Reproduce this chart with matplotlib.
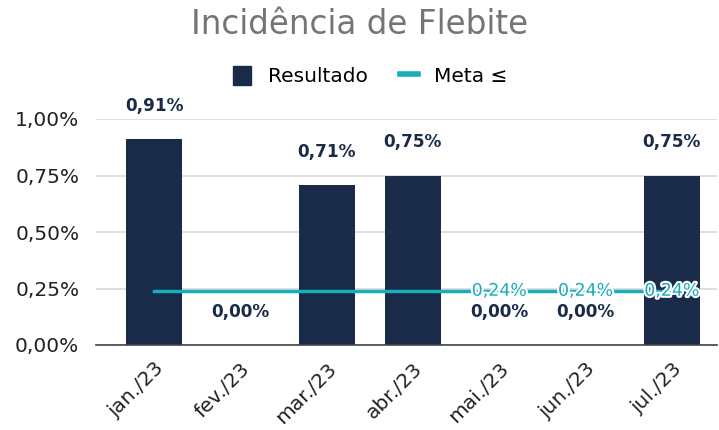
import matplotlib.pyplot as plt
import matplotlib.patheffects as pe
from matplotlib.lines import Line2D
from matplotlib.patches import Patch

meses = ["jan./23", "fev./23", "mar./23", "abr./23", "mai./23", "jun./23", "jul./23"]
resultado = [0.91, 0.00, 0.71, 0.75, 0.00, 0.00, 0.75]
meta = [0.24, 0.24, 0.24, 0.24, 0.24, 0.24, 0.24]
meta_rotulos = [False, False, False, False, True, True, True]

azul = "#1a2b4a"
teal = "#17adb9"

def pct(v):
    return f"{v:.2f}%".replace(".", ",")

fig = plt.figure(figsize=(7.19, 4.30), dpi=100)
ax = fig.add_axes([96 / 719, 1 - 345 / 430, 621 / 719, 226 / 430])

x = list(range(len(meses)))
ax.bar(x, resultado, width=0.65, color=azul, zorder=2)
ax.plot(x, meta, color=teal, linewidth=2.5, zorder=3)

for i, v in enumerate(resultado):
    ax.annotate(pct(v), (i, v), xytext=(0, 33), textcoords="offset pixels",
                ha="center", va="center", fontsize=12.2, fontweight="bold",
                color=azul, zorder=5)

for i, v in enumerate(meta):
    if meta_rotulos[i]:
        ax.annotate(pct(v), (i, v), ha="center", va="center", fontsize=12.5,
                    color=teal, zorder=6,
                    path_effects=[pe.withStroke(linewidth=3, foreground="white")])

ax.set_ylim(0, 1.0)
ax.set_xlim((96 - 154) / 86.3, (717 - 154) / 86.3)
ax.set_yticks([0, 0.25, 0.5, 0.75, 1.0])
ax.set_yticklabels([pct(t) for t in [0, 0.25, 0.5, 0.75, 1.0]], fontsize=14.5, color="#222222")
ax.set_xticks(x)
ax.set_xticklabels(meses, rotation=45, ha="right", rotation_mode="anchor",
                   fontsize=14.5, color="#222222")
ax.tick_params(axis="both", length=0)
ax.tick_params(axis="y", pad=12)
ax.tick_params(axis="x", pad=10)
ax.yaxis.grid(True, color="#d9d9d9", linewidth=1.2, zorder=0)
ax.set_axisbelow(True)
for s in ["top", "right", "left"]:
    ax.spines[s].set_visible(False)
ax.spines["bottom"].set_color("#444444")
ax.spines["bottom"].set_linewidth(1.2)

fig.text(0.5, 1 - 25 / 430, "Incidência de Flebite", ha="center", va="center",
         fontsize=23.5, color="#757575")

handles = [Patch(facecolor=azul, edgecolor=azul),
           Line2D([0], [0], color=teal, linewidth=4)]
fig.legend(handles, ["Resultado", "Meta ≤"], loc="center", bbox_to_anchor=(0.515, 1 - 76 / 430),
           ncol=2, frameon=False, fontsize=14.5, handlelength=0.9, handleheight=1.1,
           columnspacing=1.6, handletextpad=0.8)

fig.savefig("out.png", dpi=100, facecolor="white")
